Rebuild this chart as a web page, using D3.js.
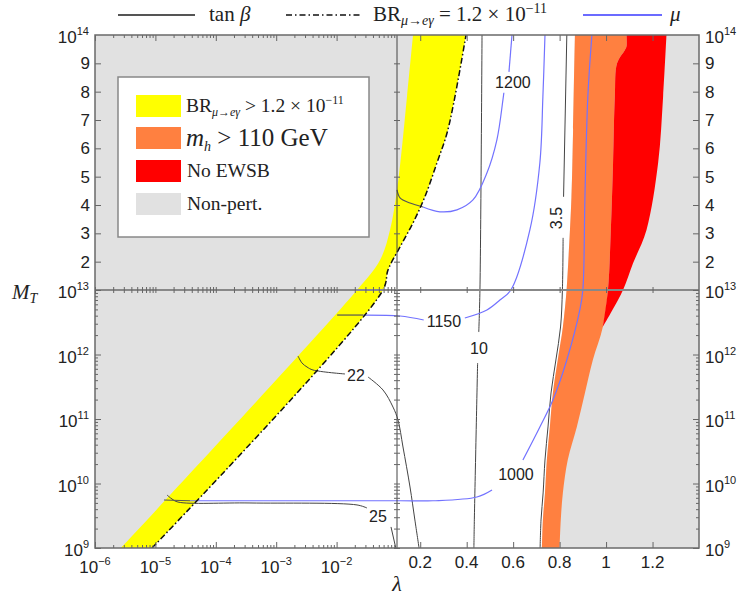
<!DOCTYPE html>
<html><head><meta charset="utf-8">
<script src="https://d3js.org/d3.v7.min.js"></script>
<style>
body{margin:0;background:#fff;}
svg{display:block;}
.tk{font-family:"Liberation Sans",Arial,Helvetica,sans-serif;font-size:17px;fill:#222;}
.cl{font-family:"Liberation Sans",Arial,Helvetica,sans-serif;font-size:16px;fill:#222;}
.sf{font-family:"Liberation Serif","DejaVu Serif",serif;fill:#222;}
</style></head><body>
<svg id="chart" width="742" height="595"></svg>
<script>
// ---------------- data ----------------
const xLogMajor = [1e-6,1e-5,1e-4,1e-3,1e-2];
const xLogLabels = ["\u22126","\u22125","\u22124","\u22123","\u22122"];
const xLinMajor = [0.2,0.4,0.6,0.8,1,1.2];
const xLinLabels = ["0.2","0.4","0.6","0.8","1","1.2"];
const yLinMajor = [2e13,3e13,4e13,5e13,6e13,7e13,8e13,9e13];
const yLinLabels = ["2","3","4","5","6","7","8","9"];
const yLogMajor = [1e9,1e10,1e11,1e12,1e13];
const yLogLabels = ["9","10","11","12","13"];

// region boundaries: [lambda, M_T (GeV)]
const nonPertLeft = [[2.69e-6,1e9],[0.0218,1e13],[0.0524,2.06e13],[0.0766,3.12e13],[0.1,4.53e13],[0.1215,6.05e13],[0.143,7.83e13],[0.169,1e14]];
const brLine = [[8.79e-6,1e9],[0.0586,1e13],[0.071,1.71e13],[0.113,2.52e13],[0.169,3.37e13],[0.22,4.29e13],[0.272,5.49e13],[0.319,6.65e13],[0.397,1e14]];
const mhLeft = [[0.724,1e9],[0.728,2.72e9],[0.737,7.13e9],[0.745,2.31e10],[0.758,7.52e10],[0.771,2.53e11],[0.792,8.22e11],[0.814,2.67e12],[0.830,1e13],[0.837,1.95e13],[0.851,4.29e13],[0.858,6.65e13],[0.866,1e14]];
const mhRightLow = [[0.80,1e9],[0.805,2.72e9],[0.814,7.13e9],[0.835,2.31e10],[0.874,7.52e10],[0.909,2.53e11],[0.943,8.22e11],[0.986,2.67e12]];
const ewsbLeft = [[0.986,2.67e12],[1.008,1e13],[1.0204,3.12e13],[1.030,5.48e13],[1.0377,7.83e13],[1.0476,9.01e13],[1.08,9.45e13],[1.088,9.6e13],[1.088,1e14]];
const ewsbRight = [[0.986,2.67e12],[1.073,1e13],[1.116,1.94e13],[1.174,3.12e13],[1.224,5.48e13],[1.2455,7.83e13],[1.26,1e14]];

// tan(beta) contours
const tanB35 = [[[0.716,1e9],[0.72,2.72e9],[0.729,7.13e9],[0.737,2.31e10],[0.75,7.52e10],[0.763,2.53e11],[0.784,8.22e11],[0.804,2.67e12],[0.812,1e13],[0.815,2.84e13]],[[0.817,4.29e13],[0.831,1e14]]];
const tanB10 = [[[0.466,1e14],[0.457,1e13],[0.452,2.23e12]],[[0.447,7.38e11],[0.433,2.8e9],[0.431,1e9]]];
const tanB22 = [[[0.002296,9.48e11],[0.002673,7.38e11],[0.003236,6.40e11],[0.004064,5.75e11],[0.01377,4.99e11]],[[0.0331,4.48e11],[0.0586,2.82e11],[0.0859,1.53e11],[0.1043,9.64e10],[0.1258,3.68e10],[0.156,8.83e9],[0.177,2.72e9],[0.195,1e9]]];
const tanB25 = [[[1.556e-5,6.64e9],[1.884e-5,5.75e9],[2.366e-5,5.16e9],[3.68e-4,4.99e9],[0.02178,4.65e9],[0.03184,4.17e9]],[[0.0796,2.12e9],[0.0955,1e9]]];
// mu contours (parts on the yellow band drawn grey)
const mu1200Grey = [[0.1,4.53e13],[0.113,4.25e13],[0.156,4.07e13],[0.212,3.93e13]];
const mu1200 = [[[0.212,3.93e13],[0.285,3.76e13],[0.358,3.83e13],[0.427,4.18e13],[0.487,5.13e13],[0.530,6.30e13],[0.556,7.71e13],[0.560,7.96e13]],[[0.582,8.7e13],[0.595,1e14]]];
const mu1150Grey = [[0.0102,4.09e12],[0.0274,4.09e12]];
const mu1150 = [[[0.0274,4.09e12],[0.113,3.95e12],[0.215,3.43e12]],[[0.392,3.68e12],[0.487,4.90e12],[0.543,7.0e12],[0.590,1e13],[0.672,3.12e13],[0.715,5.49e13],[0.728,7.82e13],[0.737,1e14]]];
const mu1000Grey = [[1.387e-5,5.55e9],[3.74e-5,5.4e9]];
const mu1000 = [[[3.74e-5,5.4e9],[2.48e-3,5.4e9],[0.113,5.4e9],[0.255,5.4e9],[0.444,6.18e9],[0.509,7.92e9]],[[0.642,2.31e10],[0.715,7.52e10],[0.771,1.97e11],[0.831,8.22e11],[0.887,4.90e12],[0.9,1e13],[0.909,4.29e13],[0.9215,7.82e13],[0.939,1e14]]];

const contourLabels = [
  {t:"1200", l:0.599, m:8.31e13, r:0},
  {t:"1150", l:0.302, m:3.30e12, r:0},
  {t:"1000", l:0.612, m:1.36e10, r:0},
  {t:"10", l:0.453, m:1.26e12, r:0},
  {t:"22", l:0.0209, m:4.81e11, r:0},
  {t:"25", l:0.0484, m:3.03e9, r:0},
  {t:"3.5", l:0.788, m:3.54e13, r:-90}
];

// ---------------- scales ----------------
const L=95,R=699,T=35,B=548,XB=397,YB=290;
const xLog=d3.scaleLog().domain([1e-6,0.1]).range([L,XB]);
const xLin=d3.scaleLinear().domain([0.1,1.4]).range([XB,R]);
const yLog=d3.scaleLog().domain([1e9,1e13]).range([B,YB]);
const yLin=d3.scaleLinear().domain([1e13,1e14]).range([YB,T]);
const X=v=>v<0.1?xLog(v):xLin(v);
const Y=v=>v<1e13?yLog(v):yLin(v);

const svg=d3.select("#chart");
svg.append("defs").append("clipPath").attr("id","pc").append("rect").attr("x",L).attr("y",T).attr("width",R-L).attr("height",B-T);
const g=svg.append("g").attr("clip-path","url(#pc)");

const lg=d3.line().x(d=>X(d[0])).y(d=>Y(d[1])).curve(d3.curveCatmullRom.alpha(0.5));
const poly=(a,b)=>lg(a)+lg(b.slice().reverse()).replace(/^M/,"L")+"Z";

// regions
g.append("rect").attr("x",L).attr("y",T).attr("width",R-L).attr("height",B-T).attr("fill","#e1e1e1");
g.append("path").attr("d",poly(brLine,mhLeft)).attr("fill","#ffffff");
g.append("path").attr("d",poly(nonPertLeft,brLine)).attr("fill","#ffff00");
g.append("path").attr("d",poly(mhLeft,mhRightLow.concat(ewsbLeft.slice(1)))).attr("fill","#ff8040");
g.append("path").attr("d",poly(ewsbLeft,ewsbRight)).attr("fill","#ff0000");

// contours
const drawLine=(pts,col,w,dash)=>{const p=g.append("path").attr("d",lg(pts)).attr("fill","none").attr("stroke",col).attr("stroke-width",w);if(dash)p.attr("stroke-dasharray",dash);};
[tanB35,tanB10,tanB22,tanB25].forEach(c=>c.forEach(s=>drawLine(s,"#444",1)));
[mu1200,mu1150,mu1000].forEach(c=>c.forEach(s=>drawLine(s,"#7272ff",1.2)));
[mu1200Grey,mu1150Grey,mu1000Grey].forEach(s=>drawLine(s,"#555",1.2));
drawLine(brLine,"#111",1.5,"6,2.5,1.5,2.5");

// break lines
g.append("line").attr("x1",XB).attr("x2",XB).attr("y1",T).attr("y2",B).attr("stroke","#444").attr("stroke-width",1);
g.append("line").attr("x1",L).attr("x2",R).attr("y1",YB).attr("y2",YB).attr("stroke","#888").attr("stroke-width",2);

// contour labels
contourLabels.forEach(c=>{
  const x=X(c.l),y=Y(c.m);
  svg.append("text").attr("class","cl").attr("text-anchor","middle").attr("dominant-baseline","central")
    .attr("transform",`translate(${x},${y}) rotate(${c.r})`).text(c.t);
});

// ticks
const minorLogX=[];for(let e=-6;e<=-2;e++)for(let m=2;m<=9;m++)minorLogX.push(m*Math.pow(10,e));
const minorLogY=[];for(let e=9;e<=12;e++)for(let m=2;m<=9;m++)minorLogY.push(m*Math.pow(10,e));
const tk=(axis,scale,vals,size,tr)=>{svg.append("g").attr("transform",tr).call(axis(scale).tickValues(vals).tickSize(size).tickFormat(""))
  .call(s=>{s.select(".domain").remove();s.selectAll("line").attr("stroke","#666");});};
tk(d3.axisBottom,xLog,xLogMajor,-6,`translate(0,${B})`);tk(d3.axisBottom,xLog,minorLogX,-3,`translate(0,${B})`);
tk(d3.axisBottom,xLin,xLinMajor,-6,`translate(0,${B})`);
tk(d3.axisTop,xLog,xLogMajor,-6,`translate(0,${T})`);tk(d3.axisTop,xLog,minorLogX,-3,`translate(0,${T})`);
tk(d3.axisTop,xLin,xLinMajor,-6,`translate(0,${T})`);
tk(d3.axisLeft,yLog,yLogMajor,-6,`translate(${L},0)`);tk(d3.axisLeft,yLog,minorLogY,-3,`translate(${L},0)`);
tk(d3.axisLeft,yLin,yLinMajor,-6,`translate(${L},0)`);
tk(d3.axisRight,yLog,yLogMajor,-6,`translate(${R},0)`);tk(d3.axisRight,yLog,minorLogY,-3,`translate(${R},0)`);
tk(d3.axisRight,yLin,yLinMajor,-6,`translate(${R},0)`);
tk(d3.axisTop,xLog,minorLogX.concat(xLogMajor),3,`translate(0,${YB})`);tk(d3.axisBottom,xLog,minorLogX.concat(xLogMajor),3,`translate(0,${YB})`);
tk(d3.axisTop,xLin,xLinMajor,3,`translate(0,${YB})`);tk(d3.axisBottom,xLin,xLinMajor,3,`translate(0,${YB})`);
tk(d3.axisLeft,yLog,minorLogY.concat(yLogMajor),3,`translate(${XB},0)`);tk(d3.axisRight,yLog,minorLogY.concat(yLogMajor),3,`translate(${XB},0)`);
tk(d3.axisLeft,yLin,yLinMajor,3,`translate(${XB},0)`);tk(d3.axisRight,yLin,yLinMajor,3,`translate(${XB},0)`);

// frame
svg.append("rect").attr("x",L).attr("y",T).attr("width",R-L).attr("height",B-T).attr("fill","none").attr("stroke","#6a6a6a").attr("stroke-width",1.5);

// tick labels
const pow=(sel,base,sup,x,y,anchor)=>{const t=sel.append("text").attr("class","tk").attr("x",x).attr("y",y).attr("text-anchor",anchor);
  t.append("tspan").text(base);t.append("tspan").attr("dy",-8).attr("font-size",11).text(sup);return t;};
xLogMajor.forEach((v,i)=>pow(svg,"10",xLogLabels[i],xLog(v),573,"middle"));
xLinMajor.forEach((v,i)=>svg.append("text").attr("class","tk").attr("x",xLin(v)).attr("y",568).attr("text-anchor","middle").text(xLinLabels[i]));
yLinMajor.forEach((v,i)=>{
  svg.append("text").attr("class","tk").attr("x",L-5).attr("y",yLin(v)+6).attr("text-anchor","end").text(yLinLabels[i]);
  svg.append("text").attr("class","tk").attr("x",R+6).attr("y",yLin(v)+6).attr("text-anchor","start").text(yLinLabels[i]);
});
yLogMajor.forEach((v,i)=>{
  pow(svg,"10",yLogLabels[i],L-6,yLog(v)+8,"end");
  pow(svg,"10",yLogLabels[i],R+6,yLog(v)+8,"start");
});
pow(svg,"10","14",L-6,T+8,"end");
pow(svg,"10","14",R+6,T+8,"start");

// axis titles
const mt=svg.append("text").attr("class","sf").attr("x",12).attr("y",299).attr("font-size",21);
mt.append("tspan").attr("font-style","italic").text("M");
mt.append("tspan").attr("font-style","italic").attr("font-size",14).attr("dy",4).text("T");
svg.append("text").attr("class","sf").attr("x",XB).attr("y",591).attr("text-anchor","middle").attr("font-size",22).attr("font-style","italic").text("\u03bb");

// top legend
svg.append("line").attr("x1",118).attr("x2",195).attr("y1",15).attr("y2",15).attr("stroke","#555").attr("stroke-width",2.2);
const t1=svg.append("text").attr("class","sf").attr("x",209).attr("y",21).attr("font-size",21);
t1.append("tspan").text("tan ");t1.append("tspan").attr("font-style","italic").text("\u03b2");
svg.append("line").attr("x1",286).attr("x2",362).attr("y1",15).attr("y2",15).attr("stroke","#111").attr("stroke-width",1.5).attr("stroke-dasharray","6,3,1.5,3");
const t2=svg.append("text").attr("class","sf").attr("x",373).attr("y",21).attr("font-size",21);
t2.append("tspan").text("BR");
t2.append("tspan").attr("font-size",14).attr("font-style","italic").attr("dy",4).text("\u03bc\u2192e\u03b3");
t2.append("tspan").attr("dy",-4).text(" = 1.2 \u00d7 10");
t2.append("tspan").attr("font-size",14).attr("dy",-8).text("\u221211");
svg.append("line").attr("x1",583).attr("x2",662).attr("y1",15).attr("y2",15).attr("stroke","#6b6bff").attr("stroke-width",2);
svg.append("text").attr("class","sf").attr("x",670).attr("y",21).attr("font-size",21).attr("font-style","italic").text("\u03bc");

// legend box
svg.append("rect").attr("x",118).attr("y",77).attr("width",251).attr("height",160).attr("fill","#fff").attr("stroke","#888").attr("stroke-width",1.5);
const sw=[["#ffff00",95],["#ff8040",127],["#ff0000",160],["#e1e1e1",193]];
sw.forEach(s=>svg.append("rect").attr("x",136).attr("y",s[1]).attr("width",45).attr("height",22).attr("fill",s[0]));
const l1=svg.append("text").attr("class","sf").attr("x",186).attr("y",112).attr("font-size",19.5);
l1.append("tspan").text("BR");
l1.append("tspan").attr("font-size",12).attr("font-style","italic").attr("dy",4).text("\u03bc\u2192e\u03b3");
l1.append("tspan").attr("dy",-4).text(" > 1.2 \u00d7 10");
l1.append("tspan").attr("font-size",12).attr("dy",-8).text("\u221211");
const l2=svg.append("text").attr("class","sf").attr("x",186).attr("y",146).attr("font-size",25);
l2.append("tspan").attr("font-style","italic").text("m");
l2.append("tspan").attr("font-size",14).attr("font-style","italic").attr("dy",5).text("h");
l2.append("tspan").attr("dy",-5).text(" > 110 GeV");
svg.append("text").attr("class","sf").attr("x",187).attr("y",177).attr("font-size",19.5).text("No EWSB");
svg.append("text").attr("class","sf").attr("x",187).attr("y",210).attr("font-size",19.5).text("Non-pert.");
</script></body></html>
